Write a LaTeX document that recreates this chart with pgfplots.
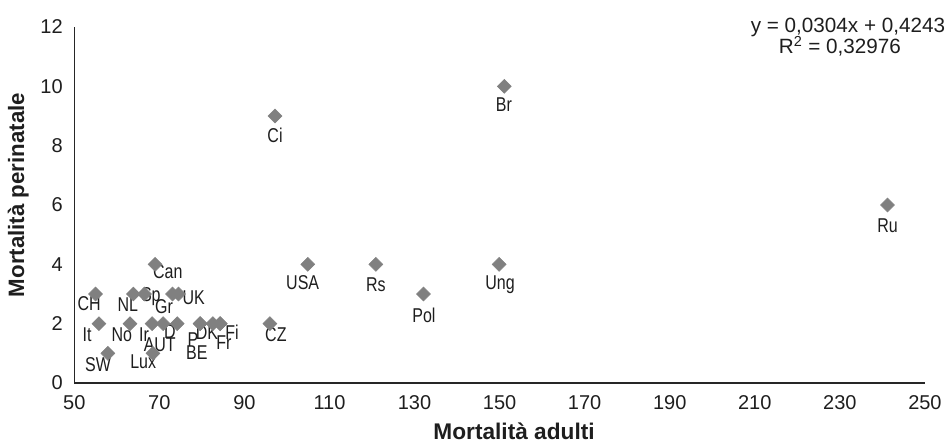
\documentclass[border=0pt]{standalone}
\usepackage{fontspec}
\setmainfont{Liberation Sans}
\newfontfamily\narrowfont{Liberation Sans}[FakeStretch=0.8]
\usepackage{pgfplots}
\pgfplotsset{compat=1.18}
\definecolor{mk}{RGB}{128,128,128}
\definecolor{tx}{RGB}{30,30,30}
\begin{document}
\begin{tikzpicture}
\useasboundingbox (-55.7pt,-45.75pt) rectangle (655.3pt,287.25pt);
\begin{axis}[
  at={(0,0)}, anchor=south west,
  scale only axis, width=638pt, height=267pt,
  xmin=50, xmax=250, ymin=0, ymax=12,
  xtick={50,70,...,250}, ytick={0,2,...,12},
  axis x line*=bottom, axis y line*=left,
  axis line style={-, draw=black!85, line width=0.8pt},
  major tick length=0pt,
  /pgf/number format/assume math mode=true,
  tick label style={font=\fontsize{15pt}{17pt}\selectfont, text=tx},
  xticklabel style={anchor=center, yshift=-14.5pt},
  yticklabel style={anchor=east, inner sep=0pt, xshift=-8.5pt},
  xlabel={Mortalità adulti},
  ylabel={Mortalità perinatale},
  xlabel style={at={(axis description cs:0.517,0)}, anchor=center, yshift=-36pt, font=\bfseries\fontsize{17pt}{19pt}\selectfont, text=tx},
  ylabel style={at={([xshift=-42pt]axis description cs:0,0.528)}, anchor=center, font=\bfseries\fontsize{16.7pt}{18pt}\selectfont, text=tx},
  clip=false,
]
\addplot[only marks, mark=square*, mark size=3.7pt, mark options={rotate=45, fill=mk, draw=mk}] coordinates {
(55.0,3) (55.8,2) (57.9,1) (63.1,2) (63.9,3) (66.5,3) (68.3,2) (68.5,1)
(69.0,4) (70.9,2) (73.1,3) (74.2,2) (74.5,3) (79.6,2) (79.6,2) (82.6,2)
(84.3,2) (84.3,2) (96.0,2) (97.2,9) (104.9,4) (120.9,4) (132.1,3)
(149.9,4) (151.1,10) (241.2,6)
};
\begin{scope}[every node/.style={font=\narrowfont\fontsize{15pt}{17pt}\selectfont, text=tx, inner sep=0pt}]
\node at (axis cs:72.0,3.77) {Can};
\node at (axis cs:53.5,2.66) {CH};
\node at (axis cs:62.6,2.63) {NL};
\node at (axis cs:68.0,2.90) {Sp};
\node at (axis cs:71.1,2.56) {Gr};
\node at (axis cs:78.1,2.86) {UK};
\node at (axis cs:53.0,1.62) {It};
\node at (axis cs:61.2,1.62) {No};
\node at (axis cs:66.4,1.62) {Ir};
\node at (axis cs:70.1,1.28) {AUT};
\node at (axis cs:72.5,1.72) {D};
\node at (axis cs:77.9,1.45) {P};
\node at (axis cs:78.8,1.01) {BE};
\node at (axis cs:81.2,1.69) {DK};
\node at (axis cs:85.2,1.35) {Fr};
\node at (axis cs:87.1,1.72) {Fi};
\node at (axis cs:97.4,1.62) {CZ};
\node at (axis cs:55.6,0.61) {SW};
\node at (axis cs:66.2,0.71) {Lux};
\node at (axis cs:103.7,3.37) {USA};
\node at (axis cs:97.2,8.36) {Ci};
\node at (axis cs:151.0,9.40) {Br};
\node at (axis cs:120.9,3.30) {Rs};
\node at (axis cs:132.2,2.29) {Pol};
\node at (axis cs:150.1,3.30) {Ung};
\node at (axis cs:241.2,5.29) {Ru};
\end{scope}
\node[font=\fontsize{15.5pt}{17pt}\selectfont, text=tx, inner sep=0pt] at (axis cs:231.9,12.0) {y = 0,0304x + 0,4243};
\node[font=\fontsize{15.5pt}{17pt}\selectfont, text=tx, inner sep=0pt] at (axis cs:230.0,11.36) {R\textsuperscript{2} = 0,32976};
\end{axis}
\end{tikzpicture}
\end{document}
